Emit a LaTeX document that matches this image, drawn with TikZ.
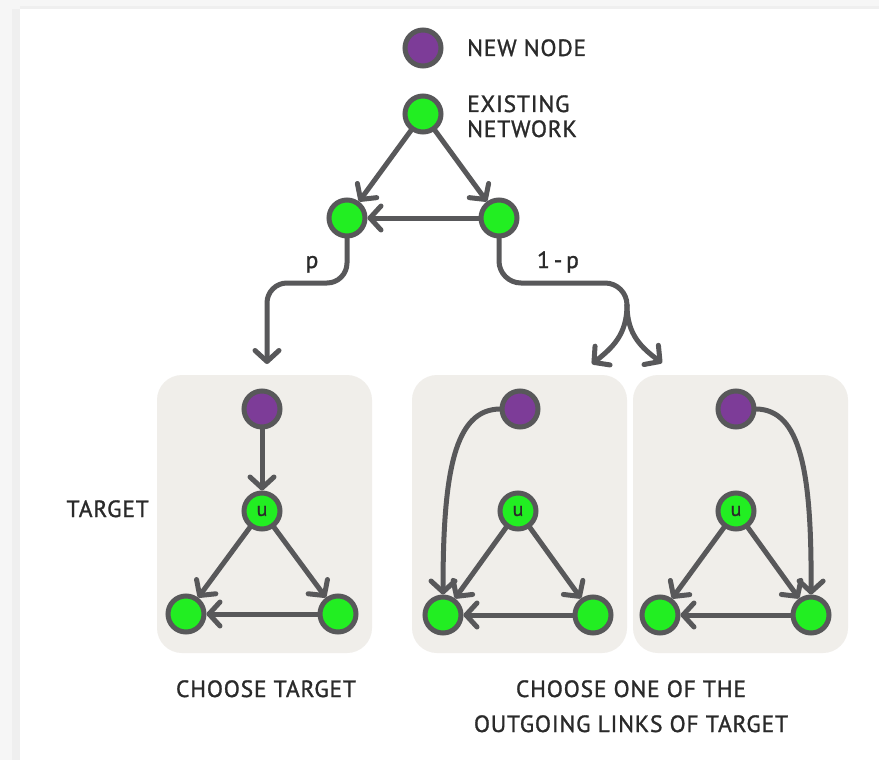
\documentclass[tikz,border=0pt]{standalone}
\usepackage{fontspec}
\setmainfont[LetterSpace=3.5,FakeBold=1.2]{PT Sans}
\usetikzlibrary{arrows.meta}
\definecolor{nodegreen}{HTML}{22EE22}
\definecolor{newpurple}{HTML}{7D3C98}
\definecolor{edgegray}{HTML}{58585A}
\definecolor{panelbg}{HTML}{F0EEEA}
\definecolor{txt}{HTML}{2A2A2A}
\definecolor{framegray}{HTML}{EFEFEF}
\definecolor{framelight}{HTML}{F6F6F6}
\begin{document}
\begin{tikzpicture}[x=1pt,y=-1pt,
  gnode/.style={circle,draw=edgegray,fill=nodegreen,line width=5pt,minimum size=36pt,inner sep=0pt,font=\fontsize{20}{20}\selectfont,text=txt},
  pnode/.style={gnode,fill=newpurple},
  arr/.style={draw=edgegray,line width=5pt,line cap=round,-{Straight Barb[length=11pt,width=24pt,round]}},
  plainline/.style={draw=edgegray,line width=5pt,line cap=round},
  panel/.style={fill=panelbg,rounded corners=25pt},
  lbl/.style={font=\fontsize{23.5}{26}\selectfont,text=txt,inner sep=0pt},
]
\useasboundingbox (0,0) rectangle (879,760);
\fill[white] (0,0) rectangle (879,760);
\fill[framelight] (0,0) rectangle (879,9);
\fill[framegray] (0,6) rectangle (879,9);
\fill[framelight] (0,0) rectangle (20,760);
\fill[framegray] (12,9) rectangle (20,760);

% legend and existing network
\node[pnode] (legN) at (423,48) {};
\node[lbl,anchor=base west] (legNt) at (467,56) {NEW NODE};
\node[gnode] (t) at (423,114) {};
\node[lbl,anchor=base west] (ex1) at (467,112) {EXISTING};
\node[lbl,anchor=base west] (ex2) at (467,137) {NETWORK};
\node[gnode] (l) at (347,218) {};
\node[gnode] (r) at (499,218) {};
\draw[arr] (t) -- (l);
\draw[arr] (t) -- (r);
\draw[arr] (r) -- (l);

% branches
\coordinate (pT) at (267,364);
\draw[arr,rounded corners=20pt] (l.south) |- (267,283) -- (pT);
\node[lbl,anchor=base] (plbl) at (312,268) {p};
\coordinate (sp) at (627,305);
\coordinate (qL) at (592,364);
\coordinate (qR) at (662,363);
\draw[plainline,rounded corners=22pt] (r.south) |- (627,283) -- (sp);
\draw[arr] (sp) .. controls (627,335) and (612,348) .. (qL);
\draw[arr] (sp) .. controls (627,335) and (642,348) .. (qR);
\node[lbl,anchor=base] (qlbl) at (558,268) {1\,-\,p};

% panels
\fill[panel] (157,375) rectangle (372,653);
\fill[panel] (412,375) rectangle (627,653);
\fill[panel] (633,375) rectangle (848,653);

% panel 1
\node[pnode] (a1) at (262,409) {};
\node[gnode] (u1) at (262,511) {u};
\node[gnode] (b1) at (186,614) {};
\node[gnode] (c1) at (338,614) {};
\draw[arr] (a1) -- (u1);
\draw[arr] (u1) -- (b1);
\draw[arr] (u1) -- (c1);
\draw[arr] (c1) -- (b1);

% panel 2
\node[pnode] (a2) at (520,409) {};
\node[gnode] (u2) at (518,511) {u};
\node[gnode] (b2) at (443,615) {};
\node[gnode] (c2) at (593,615) {};
\draw[arr] (u2) -- (b2);
\draw[arr] (u2) -- (c2);
\draw[arr] (c2) -- (b2);
\draw[arr] (a2.west) .. controls (455,410) and (443,470) .. (b2.north);

% panel 3
\node[pnode] (a3) at (736,409) {};
\node[gnode] (u3) at (736,511) {u};
\node[gnode] (b3) at (660,615) {};
\node[gnode] (c3) at (811,615) {};
\draw[arr] (u3) -- (b3);
\draw[arr] (u3) -- (c3);
\draw[arr] (c3) -- (b3);
\draw[arr] (a3.east) .. controls (800,410) and (812,470) .. (c3.north);

% labels
\node[lbl,anchor=base east] (tg) at (149,517) {TARGET};
\node[lbl,anchor=base] (ch1) at (266,697) {CHOOSE TARGET};
\node[lbl,anchor=base] (ch2) at (631,697) {CHOOSE ONE OF THE};
\node[lbl,anchor=base] (ch3) at (631,732) {OUTGOING LINKS OF TARGET};
\end{tikzpicture}
\end{document}
